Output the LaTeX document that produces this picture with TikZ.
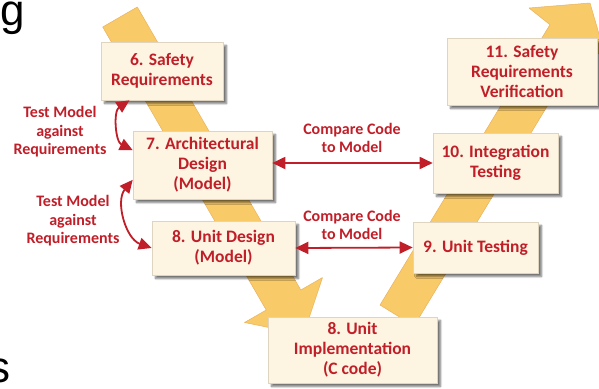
\documentclass[tikz,border=0pt]{standalone}
\usepackage{fontspec}
\setmainfont{Carlito}
\newfontfamily\slidefont{Liberation Sans}
\usetikzlibrary{arrows.meta,shadows.blur}

\definecolor{vred}{RGB}{192,30,40}
\definecolor{vband}{RGB}{248,202,104}
\definecolor{vbandline}{RGB}{234,178,94}
\definecolor{vbox}{RGB}{253,245,226}
\definecolor{vboxline}{RGB}{222,212,192}

\begin{document}
\begin{tikzpicture}[x=1pt,y=-1pt,
  phase/.style={draw=vboxline,fill=vbox,line width=0.6pt,text=vred,align=center,inner sep=0pt,
    font=\bfseries\fontsize{17.5}{20}\selectfont,
    blur shadow={shadow xshift=3.5pt,shadow yshift=-3.5pt,shadow blur steps=8,shadow opacity=55}},
  note/.style={text=vred,align=center,font=\bfseries\fontsize{16}{18.5}\selectfont},
  link/.style={vred,line width=1.8pt,{Triangle[length=13pt,width=12pt]}-{Triangle[length=13pt,width=12pt]}},
  band/.style={fill=vband,draw=vbandline,line width=0.5pt,line join=round}]
  \useasboundingbox (0,0) rectangle (599,388);
  % the two yellow bands of the V
  \begin{scope}
    \clip (0,0) rectangle (599,388);
    \path[band] (102.7,27) -- (266.2,310) -- (244.5,322.5) -- (303.5,334.6)
      -- (322.5,277.5) -- (300.8,290) -- (137.3,7) -- cycle;
    \path[band] (380,305) -- (549.9,24.7) -- (529,8) -- (590,3)
      -- (606,58) -- (584.1,45.3) -- (414,326) -- cycle;
  \end{scope}
  % left leg
  \node[phase,minimum width=122pt,minimum height=58pt] (6) at (162,71) {6. Safety\\Requirements};
  \node[phase,minimum width=139pt,minimum height=68pt] (7) at (202.5,165) {7. Architectural\\Design\\(Model)};
  \node[phase,minimum width=143pt,minimum height=54pt] (8) at (223.5,248) {8. Unit Design\\(Model)};
  % bottom
  \node[phase,minimum width=169pt,minimum height=66pt] (8c) at (352.5,350) {8. Unit\\Implementation\\(C code)};
  % right leg
  \node[phase,minimum width=125pt,minimum height=51pt] (9) at (475.5,247.5) {9. Unit Testing};
  \node[phase,minimum width=125pt,minimum height=60pt] (10) at (495.5,163) {10. Integration\\Testing};
  \node[phase,minimum width=150pt,minimum height=67pt] (11) at (522,71.5) {11. Safety\\Requirements\\Verification};
  % notes
  \node[note] (t1) at (60,132) {Test Model\\against\\Requirements};
  \node[note] (t2) at (73,221) {Test Model\\against\\Requirements};
  \node[note] (c1) at (352,138) {Compare Code\\to Model};
  \node[note] (c2) at (352,225) {Compare Code\\to Model};
  \draw[link] (6.222) to[bend right=60] (7.168);
  \draw[link] (7.192) to[bend right=55] (8.west);
  \draw[link] (7.east |- 10.west) -- (10.west);
  \draw[link] (8.east) -- (9.west);
  % slide text cut off at the edges
  \node[anchor=base west,inner sep=0pt,font=\slidefont\fontsize{44}{44}\selectfont] (g) at (0,25) {g};
  \node[anchor=base east,inner sep=0pt,font=\slidefont\fontsize{44}{44}\selectfont] (s) at (11,382) {s};
\end{tikzpicture}
\end{document}
